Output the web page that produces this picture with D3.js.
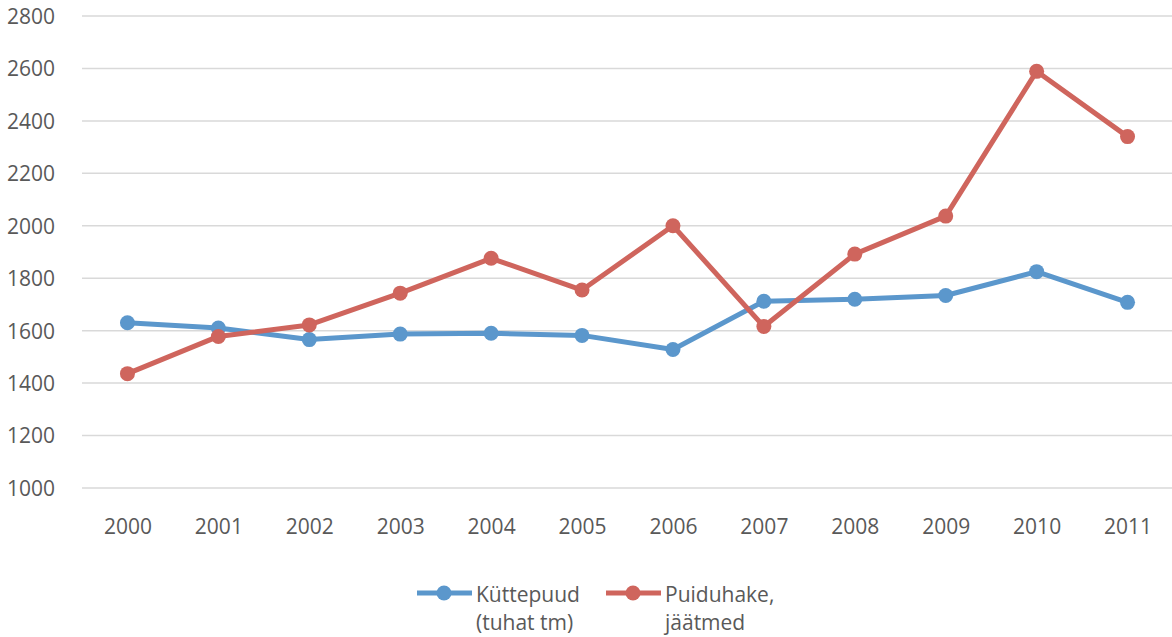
<!DOCTYPE html>
<html>
<head>
<meta charset="utf-8">
<script src="https://cdn.jsdelivr.net/npm/d3@7"></script>
<style>
  html, body { margin: 0; padding: 0; background: #fff; }
  svg { display: block; }
  text { font-family: "Open Sans", "Liberation Sans", sans-serif; fill: #595959; }
</style>
</head>
<body>
<svg id="chart" width="1172" height="637"></svg>
<script>
const years = ["2000","2001","2002","2003","2004","2005","2006","2007","2008","2009","2010","2011"];
const kuttepuud = [1630, 1610, 1566, 1587, 1590, 1582, 1528, 1712, 1720, 1734, 1825, 1708];
const puiduhake = [1436, 1578, 1622, 1743, 1876, 1755, 2000, 1616, 1892, 2037, 2589, 2340];
const yTicks = [1000, 1200, 1400, 1600, 1800, 2000, 2200, 2400, 2600, 2800];
const seriesNames = [["Küttepuud", "(tuhat tm)"], ["Puiduhake,", "jäätmed"]];
const colors = ["#5b97cc", "#cf655d"];

(function () {
const svg = d3.select("#chart");
const plotLeft = 82, plotRight = 1173, plotTop = 16, plotBottom = 488;

const x = d3.scalePoint().domain(years).range([plotLeft, plotRight]).padding(0.5);
const y = d3.scaleLinear().domain([1000, 2800]).range([plotBottom, plotTop]);

// gridlines
svg.append("g").selectAll("line").data(yTicks).join("line")
  .attr("x1", plotLeft).attr("x2", 1172)
  .attr("y1", d => y(d)).attr("y2", d => y(d))
  .attr("stroke", "#d9d9d9").attr("stroke-width", 1.5);

// y axis labels
const yAxis = d3.axisLeft(y).tickValues(yTicks).tickFormat(d3.format("d")).tickSize(0).tickPadding(0);
const gy = svg.append("g").attr("transform", "translate(55,0)").call(yAxis);
gy.select(".domain").remove();
gy.selectAll("text").attr("font-size", 21).attr("font-family", "'Open Sans', sans-serif").attr("fill", "#595959").attr("dy", "0.35em");

// x axis labels
const xAxis = d3.axisBottom(x).tickSize(0).tickPadding(0);
const gx = svg.append("g").attr("transform", "translate(0,517)").call(xAxis);
gx.select(".domain").remove();
gx.selectAll("text").attr("font-size", 21).attr("font-family", "'Open Sans', sans-serif").attr("fill", "#595959").attr("dy", "0.8em");

const line = d3.line().x((d, i) => x(years[i])).y(d => y(d));
[kuttepuud, puiduhake].forEach((vals, si) => {
  const g = svg.append("g");
  g.append("path").datum(vals).attr("d", line)
    .attr("fill", "none").attr("stroke", colors[si]).attr("stroke-width", 5)
    .attr("stroke-linejoin", "round");
  g.selectAll("circle").data(vals).join("circle")
    .attr("cx", (d, i) => x(years[i])).attr("cy", d => y(d)).attr("r", 7.5)
    .attr("fill", colors[si]);
});

// legend
const legendX = [417, 606];
seriesNames.forEach((name, si) => {
  const g = svg.append("g").attr("transform", `translate(${legendX[si]},593)`);
  g.append("line").attr("x1", 0).attr("x2", 55).attr("y1", 0).attr("y2", 0)
    .attr("stroke", colors[si]).attr("stroke-width", 5);
  g.append("circle").attr("cx", 27).attr("cy", 0).attr("r", 7.5).attr("fill", colors[si]);
  g.append("text").attr("x", 59).attr("y", 9).attr("font-size", 21).text(name[0]);
  g.append("text").attr("x", 59).attr("y", 37).attr("font-size", 21).text(name[1]);
});
})();
</script>
</body>
</html>
